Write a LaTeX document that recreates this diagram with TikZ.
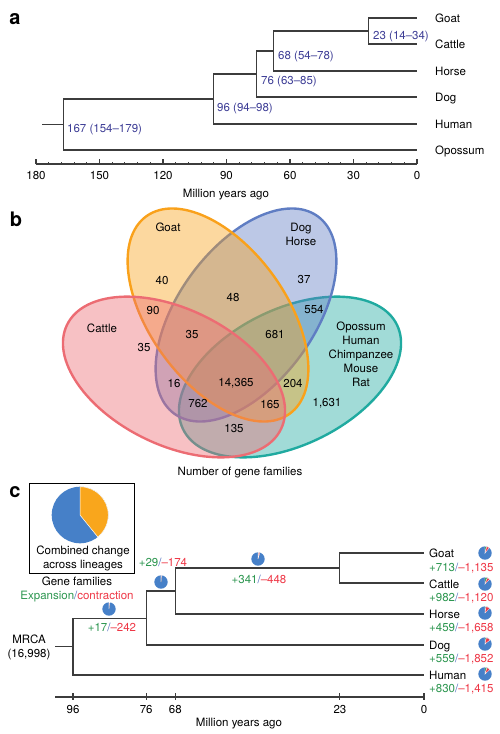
\documentclass[tikz,border=0pt]{standalone}
\usepackage{fontspec}
\setmainfont{TeX Gyre Heros}

\definecolor{treeblue}{RGB}{62,62,150}
\definecolor{treegray}{RGB}{60,60,60}
\definecolor{goatorange}{RGB}{249,161,27}
\definecolor{doghblue}{RGB}{95,125,195}
\definecolor{cattlered}{RGB}{236,108,115}
\definecolor{opossteal}{RGB}{32,170,160}
\definecolor{expgreen}{RGB}{45,150,80}
\definecolor{conred}{RGB}{238,55,70}
\definecolor{slashblue}{RGB}{80,110,190}
\definecolor{pieblue}{RGB}{70,128,200}
\definecolor{pieorange}{RGB}{249,166,28}

\tikzset{
  lab/.style={inner sep=0, text height=8.3pt, text depth=0pt, font=\fontsize{11.5}{14}\selectfont},
  labs/.style={inner sep=0, align=center, font=\fontsize{11.5}{14}\selectfont},
  panel/.style={inner sep=0, font=\fontsize{20}{20}\selectfont\bfseries},
  branch/.style={treegray, line width=1.1pt},
  age/.style={lab, anchor=west, text=treeblue},
  venn/.style={line width=2.4pt, fill opacity=0.42},
}
\newcommand{\gainloss}[2]{{\color{expgreen}+#1}{\color{slashblue}/}{\color{conred}–#2}}

\begin{document}
\begin{tikzpicture}[x=1pt,y=1pt]
  \useasboundingbox (0,0) rectangle (500,-734);

  % ---- a: dated tree
  \node[panel] (pa) at (15,-19) {a};
  \coordinate (aGoat) at (417,-18);
  \coordinate (aCattle) at (417,-44);
  \coordinate (aHorse) at (417,-71);
  \coordinate (aDog) at (417,-97);
  \coordinate (aHuman) at (417,-124);
  \coordinate (aOpossum) at (417,-150);
  \coordinate (a23) at (368.3,-31);
  \coordinate (a68) at (273.1,-51);
  \coordinate (a76) at (256.1,-74);
  \coordinate (a96) at (213.8,-99);
  \coordinate (a167) at (63.5,-124.5);
  \coordinate (aroot) at (42,-124.5);
  \draw[branch] (a23) |- (aGoat);
  \draw[branch] (a23) |- (aCattle);
  \draw[branch] (a68) |- (a23);
  \draw[branch] (a68) |- (aHorse);
  \draw[branch] (a76) |- (a68);
  \draw[branch] (a76) |- (aDog);
  \draw[branch] (a96) |- (a76);
  \draw[branch] (a96) |- (aHuman);
  \draw[branch] (a167) |- (a96);
  \draw[branch] (a167) |- (aOpossum);
  \draw[branch] (aroot) -- (a167);

  \node[lab, anchor=west] (lGoat) at (435,-18) {Goat};
  \node[lab, anchor=west] (lCattle) at (435,-44) {Cattle};
  \node[lab, anchor=west] (lHorse) at (435,-71) {Horse};
  \node[lab, anchor=west] (lDog) at (435,-97) {Dog};
  \node[lab, anchor=west] (lHuman) at (435,-124) {Human};
  \node[lab, anchor=west] (lOpossum) at (435,-150) {Opossum};

  \node[age] (g23) at (373,-35) {23 (14–34)};
  \node[age] (g68) at (278,-55) {68 (54–78)};
  \node[age] (g76) at (261,-80) {76 (63–85)};
  \node[age] (g96) at (217,-107) {96 (94–98)};
  \node[age] (g167) at (67,-128) {167 (154–179)};

  \draw[branch] (36,-164) -- (417,-164);
  \foreach \t in {0,6,...,180}
    \draw[branch] ({417-2.1167*\t},-164) -- ++(0,2.5);
  \foreach \t in {0,30,...,180} {
    \draw[branch] ({417-2.1167*\t},-164) -- ++(0,5.5);
    \node[lab] (ta\t) at ({417-2.1167*\t},-175) {\t};
  }
  \node[lab] (axa) at (226,-193) {Million years ago};

  % ---- b: venn of gene families
  \node[panel] (pb) at (16,-219) {b};
  \draw[venn, draw=opossteal, fill=opossteal, rotate around={26:(290,-377)}] (290,-377) ellipse [x radius=119, y radius=68];
  \draw[venn, draw=doghblue, fill=doghblue, rotate around={54:(246,-315)}] (246,-315) ellipse [x radius=122, y radius=68];
  \draw[venn, draw=goatorange, fill=goatorange, rotate around={-54:(218,-315)}] (218,-315) ellipse [x radius=122, y radius=68];
  \draw[venn, draw=cattlered, fill=cattlered, rotate around={-26:(174,-377)}] (174,-377) ellipse [x radius=119, y radius=68];

  \node[lab] (vGoat) at (168,-227) {Goat};
  \node[labs] (vDog) at (301,-234) {Dog\\Horse};
  \node[lab] (vCattle) at (102,-328) {Cattle};
  \node[labs] (vOpossum) at (361,-354.5) {Opossum\\Human\\Chimpanzee\\Mouse\\Rat};
  \node[lab] (n40) at (162,-280) {40};
  \node[lab] (n48) at (233,-297) {48};
  \node[lab] (n37) at (304,-279) {37};
  \node[lab] (n90) at (153,-310) {90};
  \node[lab] (n554) at (314,-309) {554};
  \node[lab] (n35a) at (192,-334) {35};
  \node[lab] (n681) at (275,-334) {681};
  \node[lab] (n35b) at (144,-347) {35};
  \node[lab] (n16) at (174,-383) {16};
  \node[lab] (n14365) at (236,-382) {14,365};
  \node[lab] (n204) at (293,-383) {204};
  \node[lab] (n762) at (198,-403) {762};
  \node[lab] (n165) at (270,-404) {165};
  \node[lab] (n1631) at (327,-402) {1,631};
  \node[lab] (n135) at (234,-428) {135};
  \node[lab] (axb) at (240,-471) {Number of gene families};

  % ---- c: expansion / contraction
  \node[panel] (pc) at (15,-492) {c};
  \draw[line width=0.8pt] (29,-483) rectangle (134,-573);
  \fill[pieblue] (80,-515) circle (28.3);
  \fill[pieorange, draw=white, line width=0.5pt] (80,-515) -- ++(90:28.3) arc[start angle=90, end angle=-51, radius=28.3] -- cycle;
  \node[labs] (comb) at (83,-558) {Combined change\\across lineages};
  \node[labs] (genefam) at (77,-589) {Gene families\\{\color{expgreen}Expansion}{\color{slashblue}/}{\color{conred}contraction}};
  \node[labs] (mrca) at (29,-647) {MRCA\\(16,998)};

  \coordinate (cGoat) at (424,-553);
  \coordinate (cCattle) at (424,-583);
  \coordinate (cHorse) at (424,-614);
  \coordinate (cDog) at (424,-645);
  \coordinate (cHuman) at (424,-675);
  \coordinate (c23) at (339.9,-568);
  \coordinate (c68) at (175.4,-591);
  \coordinate (c76) at (146.1,-618.5);
  \coordinate (c96) at (73,-646.75);
  \coordinate (croot) at (55,-646.75);
  \draw[branch] (c23) |- (cGoat);
  \draw[branch] (c23) |- (cCattle);
  \draw[branch] (c68) |- (c23);
  \draw[branch] (c68) |- (cHorse);
  \draw[branch] (c76) |- (c68);
  \draw[branch] (c76) |- (cDog);
  \draw[branch] (c96) |- (c76);
  \draw[branch] (c96) |- (cHuman);
  \draw[branch] (croot) -- (c96);

  \node[lab, anchor=west] (mGoat) at (429,-553) {Goat};
  \node[lab, anchor=west] (mCattle) at (429,-584) {Cattle};
  \node[lab, anchor=west] (mHorse) at (429,-614) {Horse};
  \node[lab, anchor=west] (mDog) at (429,-645) {Dog};
  \node[lab, anchor=west] (mHuman) at (429,-675) {Human};
  \node[lab, anchor=west] (kGoat) at (429,-567) {\gainloss{713}{1,135}};
  \node[lab, anchor=west] (kCattle) at (429,-597) {\gainloss{982}{1,120}};
  \node[lab, anchor=west] (kHorse) at (429,-627) {\gainloss{459}{1,658}};
  \node[lab, anchor=west] (kDog) at (429,-658) {\gainloss{559}{1,852}};
  \node[lab, anchor=west] (kHuman) at (429,-688) {\gainloss{830}{1,415}};
  \node[lab] (k96) at (112,-627) {\gainloss{17}{242}};
  \node[lab] (k76) at (163,-562) {\gainloss{29}{174}};
  \node[lab] (k68) at (259,-579) {\gainloss{341}{448}};

  % small pies: x / y / gain deg / loss deg
  \foreach \px/\py/\pg/\pr in {109/-609/0.4/5.1, 161/-582/0.6/3.7, 258/-559/7.2/9.5,
      485/-553/15.1/24.0, 485/-584/20.8/23.7, 485/-613/9.7/35.1, 485/-644/11.8/39.2, 485/-674/17.6/30.0} {
    \fill[pieblue] (\px,\py) circle (6.7);
    \fill[expgreen, draw=white, line width=0.3pt] (\px,\py) -- ++(90:6.7) arc[start angle=90, delta angle=-\pg, radius=6.7] -- cycle;
    \fill[conred, draw=white, line width=0.3pt] (\px,\py) -- ++({90-\pg}:6.7) arc[start angle={90-\pg}, delta angle=-\pr, radius=6.7] -- cycle;
  }

  \draw[branch] (55,-697) -- (424,-697);
  \foreach \t in {96,76,68,23,0} {
    \draw[branch] ({424-3.656*\t},-693) -- ++(0,-7);
    \node[lab] (tc\t) at ({424-3.656*\t},-709) {\t};
  }
  \node[lab] (axc) at (239,-722) {Million years ago};
\end{tikzpicture}
\end{document}
